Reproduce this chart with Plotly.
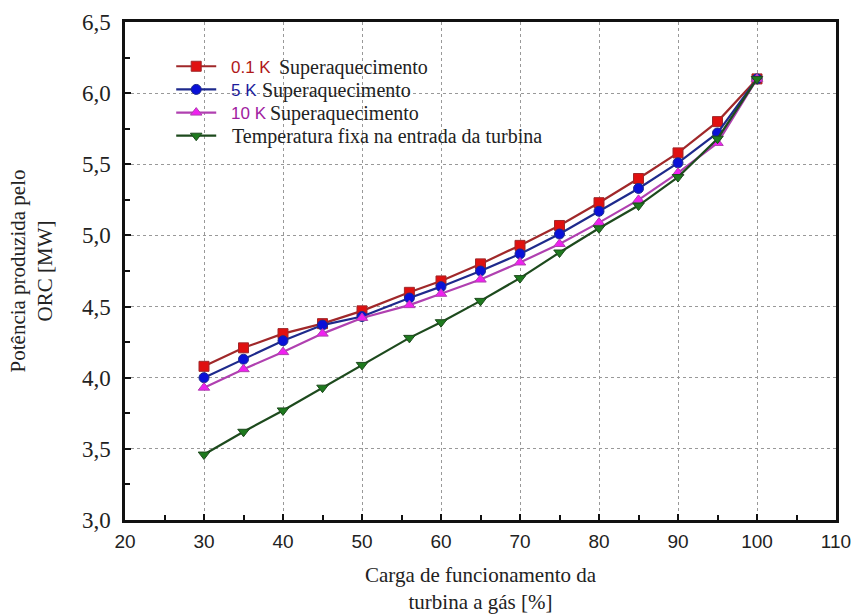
import plotly.graph_objects as go

carga = [30, 35, 40, 45, 50, 56, 60, 65, 70, 75, 80, 85, 90, 95, 100]
sup_01 = [4.08, 4.21, 4.31, 4.38, 4.47, 4.60, 4.68, 4.80, 4.93, 5.07, 5.23, 5.40, 5.58, 5.80, 6.10]
sup_5 = [4.00, 4.13, 4.26, 4.37, 4.43, 4.56, 4.64, 4.75, 4.87, 5.01, 5.17, 5.33, 5.51, 5.72, 6.10]
sup_10 = [3.93, 4.06, 4.18, 4.31, 4.42, 4.51, 4.59, 4.69, 4.81, 4.94, 5.09, 5.25, 5.44, 5.65, 6.10]
temp_fixa = [3.46, 3.62, 3.77, 3.93, 4.09, 4.28, 4.39, 4.54, 4.70, 4.88, 5.05, 5.21, 5.41, 5.68, 6.10]

tags = ["0.1 K", "5 K", "10 K"]
tag_colors = ["#b01818", "#1c1c9c", "#a020a0"]
label_texts = ["Superaquecimento", "Superaquecimento", "Superaquecimento",
               "Temperatura fixa na entrada da turbina"]

series = [sup_01, sup_5, sup_10, temp_fixa]
line_colors = ["#a0282a", "#1e2a8c", "#b040b0", "#1d4a1d"]
marker_colors = ["#e01010", "#0a10d8", "#f020f0", "#1e7a1e"]
symbols = ["square", "circle", "triangle-up", "triangle-down"]

fig = go.Figure()
for i, (ys, lc, mc, sy) in enumerate(zip(series, line_colors, marker_colors, symbols)):
    fig.add_trace(go.Scatter(
        x=carga, y=ys, name=" " * (i + 1), mode="lines+markers",
        line=dict(color=lc, width=2.2),
        marker=dict(symbol=sy, color=mc, size=10, line=dict(color=lc, width=1)),
    ))

# legend labels (coloured sans-serif tag + serif text), placed beside legend symbols
row_y = [0.9096, 0.8631, 0.8167, 0.7701]
tag_x = 0.1463
text_x = [0.2138, 0.1899, 0.2011, 0.1477]
for t, c, yy in zip(tags, tag_colors, row_y):
    fig.add_annotation(x=tag_x, y=yy, xref="paper", yref="paper", text=t,
                       showarrow=False, xanchor="left", yanchor="middle",
                       font=dict(family="Liberation Sans", size=17, color=c))
for t, xx, yy in zip(label_texts, text_x, row_y):
    fig.add_annotation(x=xx, y=yy, xref="paper", yref="paper", text=t,
                       showarrow=False, xanchor="left", yanchor="middle",
                       font=dict(family="Liberation Serif", size=20, color="#222"))

axis_common = dict(
    showline=True, linecolor="#111", linewidth=2.5, mirror=True,
    ticks="inside", ticklen=6, tickwidth=2, tickcolor="#111",
    showgrid=True, gridcolor="#999999", griddash="dot", gridwidth=1.2,
    zeroline=False, automargin=False,
)
fig.update_xaxes(
    range=[20, 110], dtick=10, tick0=20,
    minor=dict(ticks="inside", ticklen=5, tickwidth=2, tickcolor="#111", dtick=5, showgrid=False),
    tickfont=dict(family="Liberation Sans", size=19, color="#222"),
    ticklabelstandoff=2,
    title=dict(text="Carga de funcionamento da<br>turbina a gás [%]",
               font=dict(family="Liberation Serif", size=21, color="#222"), standoff=18),
    **axis_common,
)
fig.update_yaxes(
    range=[3.0, 6.5], dtick=0.5, tick0=3.0, tickformat=".1f",
    minor=dict(ticks="inside", ticklen=5, tickwidth=2, tickcolor="#111", dtick=0.25, showgrid=False),
    tickfont=dict(family="Liberation Serif", size=23, color="#222"),
    ticklabelstandoff=7,
    title=dict(text="Potência produzida pelo<br>ORC [MW]",
               font=dict(family="Liberation Serif", size=21, color="#222"), standoff=24),
    **axis_common,
)
fig.update_layout(
    width=855, height=614,
    margin=dict(l=125, r=19, t=22, b=94),
    plot_bgcolor="white", paper_bgcolor="white",
    separators=",.",
    legend=dict(x=0.065, y=0.9444, xanchor="left", yanchor="top",
                bgcolor="rgba(255,255,255,0)", tracegroupgap=0,
                font=dict(family="Liberation Serif", size=15.5, color="#222"),
                itemwidth=40),
    showlegend=True,
)
fig.write_html("out.html")
